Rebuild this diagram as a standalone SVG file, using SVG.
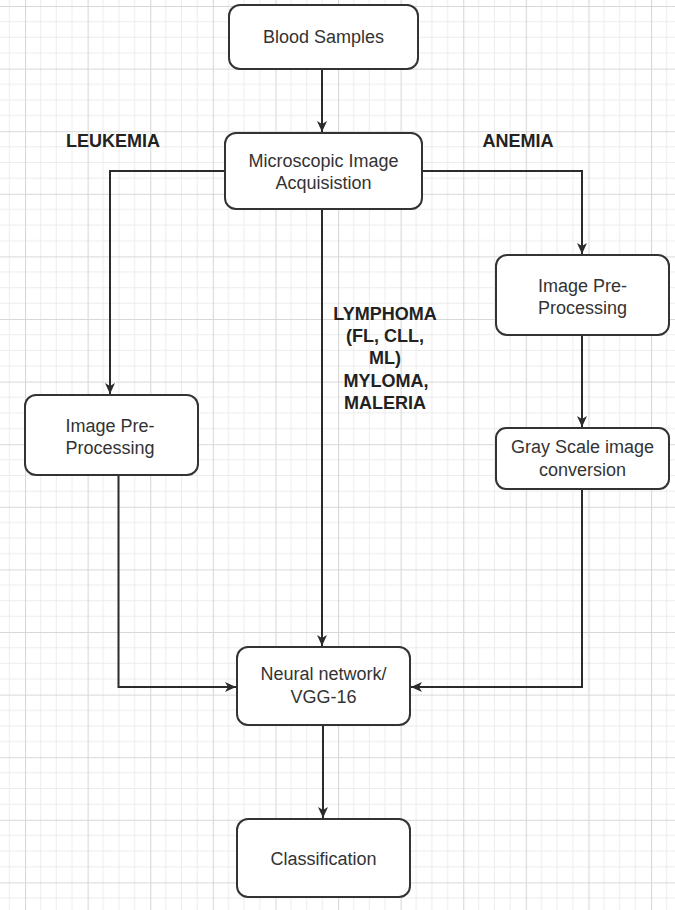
<svg xmlns="http://www.w3.org/2000/svg" width="675" height="910" viewBox="0 0 675 910">
<defs>
<pattern id="grid" patternUnits="userSpaceOnUse" x="25" y="6" width="62.6" height="62.6">
<path d="M15.65 0V62.6M31.3 0V62.6M46.95 0V62.6M0 15.65H62.6M0 31.3H62.6M0 46.95H62.6" stroke="#ececec" stroke-width="1" fill="none"/>
<path d="M0.5 0V62.6M0 0.5H62.6" stroke="#d8d8d8" stroke-width="1.2" fill="none"/>
</pattern>
<marker id="arr" markerUnits="userSpaceOnUse" markerWidth="14" markerHeight="12" refX="11" refY="5" orient="auto">
<path d="M0,0 L11,5 L0,10 L3,5 z" fill="#2b2b2b"/>
</marker>
<style>
.node rect{fill:#fff;stroke:#333;stroke-width:2}
.node text,.lbl{font-family:"Liberation Sans",Arial,sans-serif;font-size:18px;fill:#333;text-anchor:middle}
.lbl{font-weight:bold;fill:#222}
.conn path{fill:none;stroke:#2b2b2b;stroke-width:2;marker-end:url(#arr)}
</style>
</defs>
<rect width="675" height="910" fill="#fff"/>
<rect width="675" height="910" fill="url(#grid)"/>
<g class="conn" id="connectors">
<path d="M322 69V132"/>
<path d="M225 171H110V394"/>
<path d="M422 171H582V254"/>
<path d="M582 335V427"/>
<path d="M322 209V646"/>
<path d="M118.5 475V687H236"/>
<path d="M582 489V687H411"/>
<path d="M323 725V818"/>
</g>
<g class="node" id="blood">
<rect x="229" y="5" width="189" height="64" rx="11"/>
<text x="323.5" y="43">Blood Samples</text>
</g>
<g class="node" id="micro">
<rect x="225" y="133" width="197" height="76" rx="11"/>
<text x="323.5" y="167">Microscopic Image</text>
<text x="323.5" y="189">Acquisistion</text>
</g>
<g class="node" id="pre_left">
<rect x="25" y="395" width="173" height="80" rx="11"/>
<text x="110" y="432">Image Pre-</text>
<text x="110" y="454">Processing</text>
</g>
<g class="node" id="pre_right">
<rect x="496" y="255" width="173" height="80" rx="11"/>
<text x="582.5" y="292">Image Pre-</text>
<text x="582.5" y="314">Processing</text>
</g>
<g class="node" id="gray">
<rect x="496" y="428" width="173" height="61" rx="10"/>
<text x="582.5" y="453">Gray Scale image</text>
<text x="582.5" y="476">conversion</text>
</g>
<g class="node" id="nn">
<rect x="237" y="647" width="173" height="78" rx="11"/>
<text x="323.5" y="680">Neural network/</text>
<text x="323.5" y="703">VGG-16</text>
</g>
<g class="node" id="cls">
<rect x="237" y="819" width="173" height="78" rx="11"/>
<text x="323.5" y="865">Classification</text>
</g>
<g id="labels">
<text class="lbl" x="113" y="147">LEUKEMIA</text>
<text class="lbl" x="518" y="147">ANEMIA</text>
<text class="lbl" x="385" y="320">LYMPHOMA</text>
<text class="lbl" x="385" y="342">(FL, CLL,</text>
<text class="lbl" x="385" y="364">ML)</text>
<text class="lbl" x="386" y="387">MYLOMA,</text>
<text class="lbl" x="385" y="409">MALERIA</text>
</g>
</svg>
